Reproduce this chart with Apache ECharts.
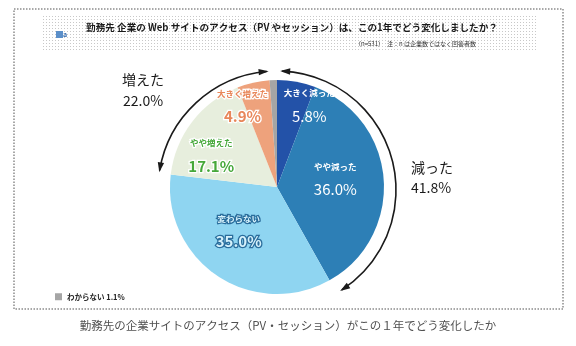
<!DOCTYPE html>
<html><head><meta charset="utf-8">
<script src="https://cdn.jsdelivr.net/npm/echarts@6/dist/echarts.min.js"></script>
<style>html,body{margin:0;padding:0;background:#fff}#c{width:576px;height:346px}</style>
</head><body><div id="c"></div>
<script>
var categories = ['大きく減った','やや減った','変わらない','やや増えた','大きく増えた','わからない'];
var values = [5.8, 36.0, 35.0, 17.1, 4.9, 1.1];
var sliceColors = ['#2352a8','#2d7fb6','#8fd5f1','#e7eedd','#eea27c','#a5a5a5'];
var decreased = ['大きく減った','やや減った'];
var increased = ['やや増えた','大きく増えた'];
var titleText = '勤務先 企業の Web サイトのアクセス（PV やセッション）は、この1年でどう変化しましたか？';
var noteText = '（n=531）　注：n は企業数ではなく回答者数';
var captionText = '勤務先の企業サイトのアクセス（PV・セッション）がこの１年でどう変化したか';

var FONT = '"Noto Sans CJK JP", sans-serif';
function sumOf(names){var s=0;names.forEach(function(n){s+=values[categories.indexOf(n)];});return s.toFixed(1);}

var labelStyles = [
  {fill:'#ffffff', stroke:null, off:[22,-27]},
  {fill:'#ffffff', stroke:null, off:[2,-5]},
  {fill:'#d6f2fc', stroke:'#2a6d9c', off:[-7,-4]},
  {fill:'#46a83a', stroke:'#ffffff', off:[-21,2]},
  {fill:'#e8875a', stroke:'#ffffff', off:[-22,-27]},
  null
];

var data = categories.map(function(c,i){
  var st = labelStyles[i];
  var item = {name:c, value:values[i], itemStyle:{color:sliceColors[i]}};
  if(!st){ item.label={show:false}; return item; }
  var sw = st.stroke?2.5:0;
  item.label = {
    show:true, position:'inside', offset:st.off,
    formatter:function(p){return '{n|'+p.name+'}\n{p|'+p.value.toFixed(1)+'%}';},
    rich:{
      n:{fontSize:8.5, fontWeight:'bold', color:st.fill, textBorderColor:st.stroke||'transparent', textBorderWidth:sw, fontFamily:FONT, lineHeight:23},
      p:{fontSize:15, fontWeight:st.stroke?'bold':'normal', color:st.fill, textBorderColor:st.stroke||'transparent', textBorderWidth:sw, fontFamily:FONT, lineHeight:23}
    }
  };
  return item;
});

var pc = document.createElement('canvas'); pc.width=3; pc.height=3;
var pctx = pc.getContext('2d'); pctx.fillStyle='#fff'; pctx.fillRect(0,0,3,3);
pctx.fillStyle='#c8c8c8'; pctx.fillRect(1,1,1,1);

var CX=277, CY=190, R=119;
function deg(a){return a*Math.PI/180;}
function arrowHead(theta, dir){
  var px=CX+R*Math.cos(theta), py=CY+R*Math.sin(theta);
  var tx=-Math.sin(theta)*dir, ty=Math.cos(theta)*dir;
  var nx=-ty, ny=tx, L=8, W=3.2;
  return {type:'polygon', shape:{points:[[px+tx*2,py+ty*2],[px-tx*L+nx*W,py-ty*L+ny*W],[px-tx*L-nx*W,py-ty*L-ny*W]]}, style:{fill:'#1a1a1a'}, z:10};
}
function arcGroup(a0,a1){
  return [
    {type:'arc', shape:{cx:CX,cy:CY,r:R,startAngle:deg(a0),endAngle:deg(a1),clockwise:true}, style:{stroke:'#1a1a1a',lineWidth:1.6,fill:null}, z:10},
    arrowHead(deg(a0),-1), arrowHead(deg(a1),1)
  ];
}

var graphics = [
  {type:'rect', shape:{x:14,y:9,width:549,height:300}, style:{fill:null,stroke:'#a8a8a8',lineWidth:2,lineDash:[1.5,1.5]}, z:-1},
  {type:'rect', shape:{x:42,y:14,width:494,height:36}, style:{fill:{image:pc,repeat:'repeat'}}, z:-1},
  {type:'rect', shape:{x:56,y:31,width:7,height:7}, style:{fill:'#5b8fc9'}, z:2},
  {type:'text', x:63, y:31, style:{text:'a', fill:'#3a6fb0', font:'bold 7px '+FONT}, z:2},
  {type:'text', x:292, y:27, style:{text:titleText, fill:'#1a1a1a', font:'bold 9.6px '+FONT, textAlign:'center', textVerticalAlign:'middle'}},
  {type:'text', x:476, y:44, style:{text:noteText, fill:'#333', font:'6px '+FONT, textAlign:'right', textVerticalAlign:'middle'}},
  {type:'text', x:143, y:80, style:{text:'増えた', fill:'#1a1a1a', font:'14px '+FONT, textAlign:'center', textVerticalAlign:'middle'}},
  {type:'text', x:143, y:101, style:{text:sumOf(increased)+'%', fill:'#1a1a1a', font:'14px '+FONT, textAlign:'center', textVerticalAlign:'middle'}},
  {type:'text', x:411, y:168, style:{text:'減った', fill:'#1a1a1a', font:'14px '+FONT, textAlign:'left', textVerticalAlign:'middle'}},
  {type:'text', x:411, y:188, style:{text:sumOf(decreased)+'%', fill:'#1a1a1a', font:'14px '+FONT, textAlign:'left', textVerticalAlign:'middle'}},
  {type:'text', x:288, y:326, style:{text:captionText, fill:'#505050', font:'11.5px '+FONT, textAlign:'center', textVerticalAlign:'middle'}}
].concat(arcGroup(189.5,265)).concat(arcGroup(272.5,417));

var chart = echarts.init(document.getElementById('c'), null, {renderer:'canvas'});
chart.setOption({
  animation:false,
  backgroundColor:'#ffffff',
  legend:{data:['わからない'], left:50, top:288, itemWidth:7, itemHeight:7, itemGap:4, icon:'rect',
    formatter:function(n){return n+' '+values[categories.indexOf(n)]+'%';},
    textStyle:{fontSize:7.5, fontWeight:'bold', color:'#222', fontFamily:FONT}, selectedMode:false},
  series:[{
    type:'pie', center:[277,187], radius:[0,107], startAngle:90, clockwise:true,
    labelLine:{show:false}, silent:true, data:data
  }],
  graphic:graphics
});
</script></body></html>
